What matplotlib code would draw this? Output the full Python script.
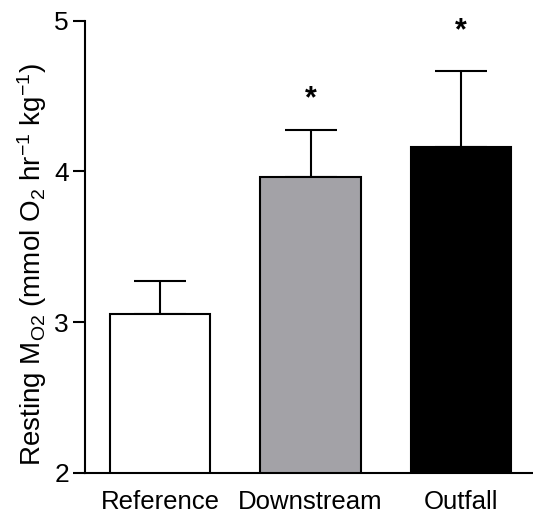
import numpy as np
import matplotlib
matplotlib.use("Agg")
import matplotlib.pyplot as plt

plt.rcParams['font.family'] = ['Liberation Sans', 'DejaVu Sans']
plt.rcParams['mathtext.default'] = 'regular'

sites = ['Reference', 'Downstream', 'Outfall']
mo2_mean = [3.055, 3.965, 4.165]
mo2_sem = [0.22, 0.31, 0.50]
bar_colors = ['white', '#a3a2a7', 'black']
star_y = [None, 4.48, 4.93]

fig = plt.figure(figsize=(5.33, 5.2), dpi=100)
ax = fig.add_axes([85 / 533, 47 / 520, 448 / 533, 452.3 / 520])

x = np.arange(len(sites))
ax.bar(x, mo2_mean, width=0.665, bottom=0, color=bar_colors,
       edgecolor='black', linewidth=1.5, zorder=2)
ax.errorbar(x, mo2_mean, yerr=[np.zeros(len(x)), mo2_sem], fmt='none',
            ecolor='black', elinewidth=1.5, capsize=18.5, capthick=1.5, zorder=1)

for xi, sy in zip(x, star_y):
    if sy is not None:
        ax.text(xi, sy, '*', ha='center', va='center', fontsize=22, fontweight='bold')

ax.set_ylim(2, 5)
ax.set_xlim(-0.498, 2.478)
ax.set_yticks([2, 3, 4, 5])
ax.set_xticks(x)
ax.set_xticklabels(sites, fontsize=18.5)
ax.tick_params(axis='x', length=0, pad=12)
ax.tick_params(axis='y', length=8.6, width=1.5, labelsize=19, pad=3)

for side in ['top', 'right']:
    ax.spines[side].set_visible(False)
for side in ['left', 'bottom']:
    ax.spines[side].set_linewidth(1.5)

ax.set_ylabel(r'Resting M$_{O2}$ (mmol O$_2$ hr$^{-1}$ kg$^{-1}$)', fontsize=20)
ax.yaxis.set_label_coords(-0.08, 0.46)

fig.savefig('out.png', dpi=100)
